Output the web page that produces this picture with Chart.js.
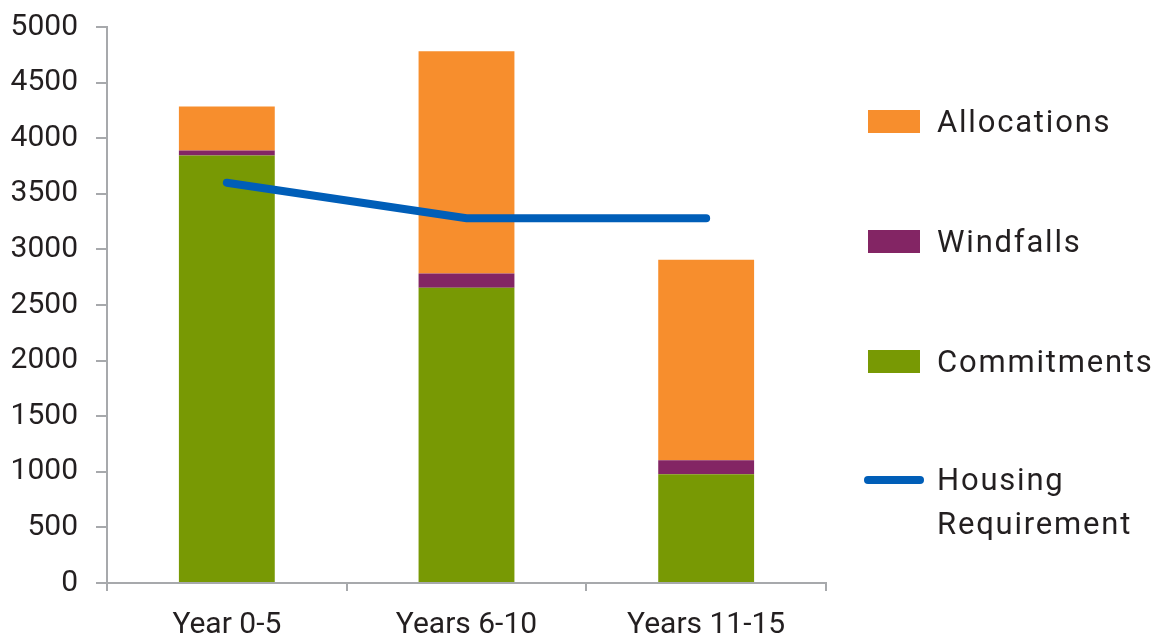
<!DOCTYPE html>
<html lang="en">
<head>
    <meta charset="UTF-8">
    <title>Housing Supply</title>
    <script src="https://cdn.jsdelivr.net/npm/chart.js"></script>
    <style>
        body {
            margin: 0;
            background: #fff;
            font-family: Roboto, Arial, sans-serif;
            color: #231f20;
        }

        #wrap {
            position: relative;
            width: 1167px;
            height: 641px;
        }

        #legend {
            position: absolute;
            left: 864px;
            top: 0;
            font-size: 31px;
            letter-spacing: 1.8px;
        }

        .item {
            position: absolute;
            left: 0;
            display: flex;
            align-items: center;
            white-space: nowrap;
        }

        .swatch {
            width: 52px;
            height: 23px;
            margin-left: 4px;
            margin-right: 17px;
        }

        .lineSwatch {
            width: 60px;
            height: 8px;
            border-radius: 4px;
            margin-right: 13px;
        }
    </style>
</head>
<body>
    <div id="wrap">
        <canvas id="housingChart"></canvas>
        <div id="legend"></div>
    </div>

    <script>
        // chart data
        const categories = ['Year 0-5', 'Years 6-10', 'Years 11-15'];
        const commitments = [3845, 2655, 977];
        const windfalls = [45, 128, 126];
        const allocations = [395, 2000, 1805];
        const housingRequirement = [3600, 3280, 3280];
        const yTicks = [0, 500, 1000, 1500, 2000, 2500, 3000, 3500, 4000, 4500, 5000];

        const axisColor = '#a7a9ac';
        const textColor = '#231f20';
        const tickFont = { family: 'Roboto', size: 30 };

        const ctx = document.getElementById('housingChart').getContext('2d');
        const chart = new Chart(ctx, {
            data: {
                labels: categories,
                datasets: [
                    {
                        type: 'line',
                        label: 'Housing Requirement',
                        data: housingRequirement,
                        borderColor: '#005eb8',
                        backgroundColor: '#005eb8',
                        borderWidth: 8,
                        borderCapStyle: 'round',
                        borderJoinStyle: 'miter',
                        pointRadius: 0,
                        tension: 0,
                        stack: 'req',
                        order: 0
                    },
                    {
                        type: 'bar',
                        label: 'Commitments',
                        data: commitments,
                        backgroundColor: '#789904',
                        stack: 'supply',
                        order: 1
                    },
                    {
                        type: 'bar',
                        label: 'Windfalls',
                        data: windfalls,
                        backgroundColor: '#832564',
                        stack: 'supply',
                        order: 1
                    },
                    {
                        type: 'bar',
                        label: 'Allocations',
                        data: allocations,
                        backgroundColor: '#f78e2d',
                        stack: 'supply',
                        order: 1
                    }
                ]
            },
            options: {
                responsive: true,
                maintainAspectRatio: false,
                animation: false,
                barPercentage: 0.4,
                categoryPercentage: 1.0,
                layout: {
                    padding: { top: 27, right: 341, left: 0, bottom: 0 }
                },
                plugins: {
                    legend: { display: false },
                    tooltip: { enabled: false }
                },
                scales: {
                    x: {
                        stacked: true,
                        offset: true,
                        border: { color: axisColor, width: 2 },
                        grid: {
                            offset: true,
                            drawOnChartArea: false,
                            drawTicks: true,
                            tickLength: 8,
                            color: axisColor,
                            lineWidth: 2
                        },
                        ticks: {
                            color: textColor,
                            font: tickFont,
                            padding: 16,
                            maxRotation: 0
                        },
                        afterFit: function (scale) { scale.height = 58; }
                    },
                    y: {
                        stacked: true,
                        min: 0,
                        max: 5000,
                        border: { color: axisColor, width: 2 },
                        grid: {
                            drawOnChartArea: false,
                            drawTicks: true,
                            tickLength: 11,
                            color: axisColor,
                            lineWidth: 2
                        },
                        afterBuildTicks: function (scale) {
                            scale.ticks = yTicks.map(v => ({ value: v }));
                        },
                        ticks: {
                            color: textColor,
                            font: tickFont,
                            padding: 18,
                            callback: v => String(v)
                        },
                        afterFit: function (scale) {
                            scale.width = 107;
                            scale.paddingTop = 0;
                            scale.paddingBottom = 0;
                        }
                    }
                }
            }
        });

        // legend built from the datasets, laid out like the original
        const legendRows = [
            { ds: 3, top: 121 },
            { ds: 2, top: 241 },
            { ds: 1, top: 361 },
            { ds: 0, top: 480 }
        ];
        const legend = document.getElementById('legend');
        legendRows.forEach(row => {
            const ds = chart.data.datasets[row.ds];
            const item = document.createElement('div');
            item.className = 'item';
            const mark = document.createElement('div');
            const text = document.createElement('div');
            if (ds.type === 'line') {
                mark.className = 'lineSwatch';
                mark.style.background = ds.borderColor;
                item.style.alignItems = 'flex-start';
                mark.style.marginTop = '18px';
                text.innerHTML = 'Housing<br>Requirement';
                text.style.lineHeight = '44px';
                item.style.top = (row.top - 22) + 'px';
            } else {
                mark.className = 'swatch';
                mark.style.background = ds.backgroundColor;
                text.textContent = ds.label;
                item.style.top = (row.top - 20) + 'px';
                item.style.height = '40px';
            }
            item.appendChild(mark);
            item.appendChild(text);
            legend.appendChild(item);
        });
    </script>
</body>
</html>
